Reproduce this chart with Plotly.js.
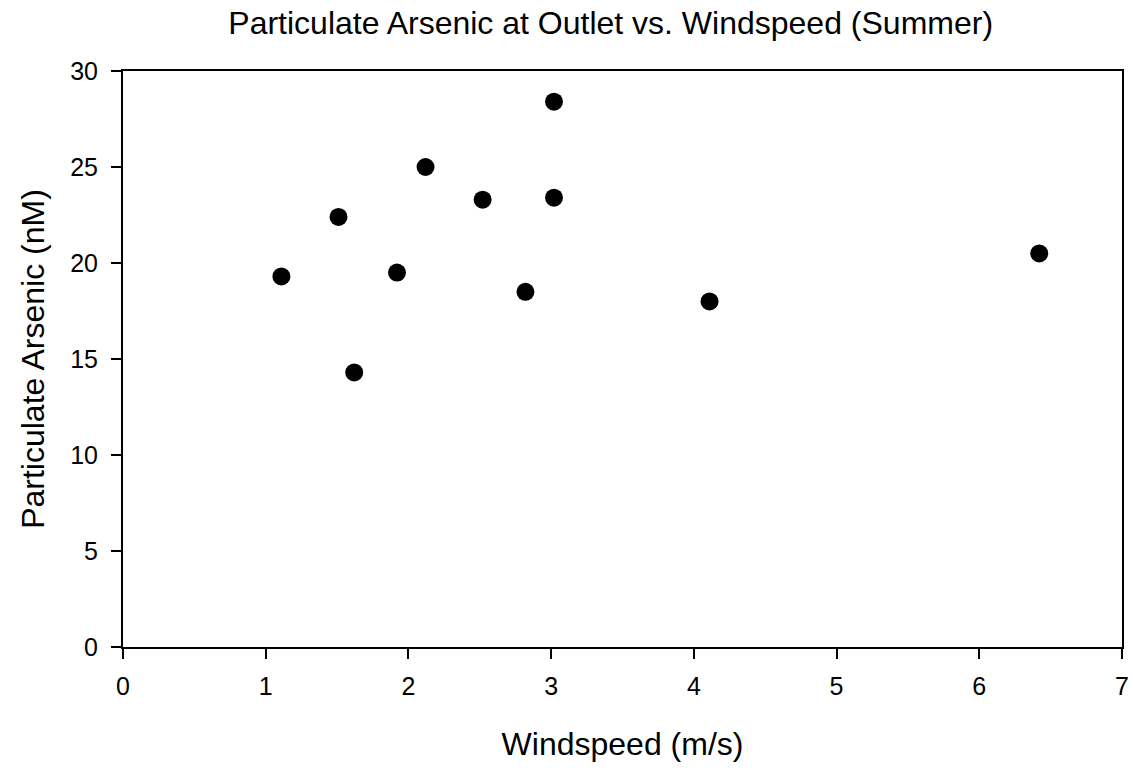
<!DOCTYPE html>
<html>
<head>
<meta charset="utf-8">
<script src="https://cdn.plot.ly/plotly-3.0.1.min.js"></script>
<style>html,body{margin:0;padding:0;background:#fff;}#chart{width:1133px;height:770px;}</style>
</head>
<body>
<div id="chart"></div>
<script>
const windspeed = [1.11, 1.51, 1.62, 1.92, 2.12, 2.52, 2.82, 3.02, 3.02, 4.11, 6.42];
const arsenic   = [19.3, 22.4, 14.3, 19.5, 25.0, 23.3, 18.5, 28.4, 23.4, 18.0, 20.5];
const xTicks = [0, 1, 2, 3, 4, 5, 6, 7];
const yTicks = [0, 5, 10, 15, 20, 25, 30];

const font = 'Liberation Sans, Arial, sans-serif';

const trace = {
  x: windspeed, y: arsenic, type: 'scatter', mode: 'markers',
  marker: {color: '#000', size: 18}, hoverinfo: 'x+y', showlegend: false
};

const layout = {
  width: 1133, height: 770,
  margin: {l: 123, r: 11, t: 71, b: 123},
  paper_bgcolor: '#fff', plot_bgcolor: '#fff',
  font: {family: font, color: '#000'},
  title: {
    text: 'Particulate Arsenic at Outlet vs. Windspeed (Summer)',
    font: {family: font, size: 32, color: '#000'},
    xref: 'container', x: 0.539, xanchor: 'center',
    yref: 'container', y: 1 - 23/770, yanchor: 'middle'
  },
  xaxis: {
    range: [0, 7], tickvals: xTicks, ticktext: xTicks.map(String),
    showgrid: false, zeroline: false,
    showline: true, mirror: true, linecolor: '#000', linewidth: 2,
    ticks: 'outside', ticklen: 10, tickwidth: 2, tickcolor: '#000',
    ticklabelstandoff: 6,
    tickfont: {family: font, size: 25, color: '#000'},
    title: {text: 'Windspeed (m/s)', font: {family: font, size: 32, color: '#000'}, standoff: 34}
  },
  yaxis: {
    range: [0, 30], tickvals: yTicks, ticktext: yTicks.map(String),
    showgrid: false, zeroline: false,
    showline: true, mirror: true, linecolor: '#000', linewidth: 2,
    ticks: 'outside', ticklen: 10, tickwidth: 2, tickcolor: '#000',
    ticklabelstandoff: 8,
    tickfont: {family: font, size: 25, color: '#000'},
    title: {text: 'Particulate Arsenic (nM)', font: {family: font, size: 32, color: '#000'}, standoff: 16}
  }
};

Plotly.newPlot('chart', [trace], layout, {displayModeBar: false, staticPlot: true});
</script>
</body>
</html>
